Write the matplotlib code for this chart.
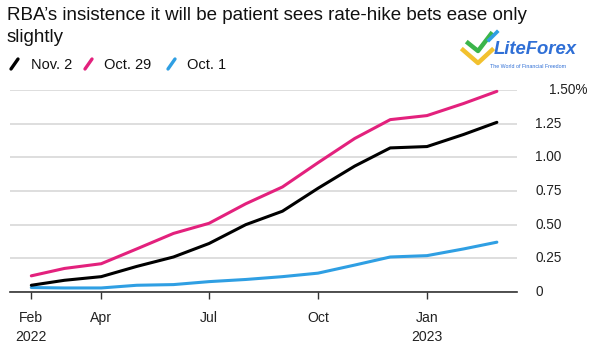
import matplotlib
matplotlib.use("Agg")
import matplotlib.pyplot as plt
from matplotlib.lines import Line2D
import matplotlib.transforms as mtransforms
import pandas as pd

plt.rcParams['font.family'] = ['Liberation Sans', 'DejaVu Sans']

dates = pd.date_range("2022-02-01", "2023-03-01", freq="MS")
nov2 = [0.05, 0.087, 0.114, 0.19, 0.26, 0.36, 0.50, 0.60, 0.77, 0.935, 1.07, 1.08, 1.17, 1.26]
oct29 = [0.12, 0.175, 0.21, 0.32, 0.435, 0.51, 0.655, 0.78, 0.96, 1.14, 1.28, 1.31, 1.40, 1.49]
oct1 = [0.033, 0.03, 0.03, 0.05, 0.055, 0.077, 0.093, 0.114, 0.14, 0.20, 0.26, 0.27, 0.32, 0.37]

series_names = ["Nov. 2", "Oct. 29", "Oct. 1"]
colors = ["#000000", "#e3217d", "#2f9fe3"]

ytick_vals = [0, 0.25, 0.5, 0.75, 1.0, 1.25, 1.5]
ytick_labels = ["0", "0.25", "0.50", "0.75", "1.00", "1.25", "1.50%"]
xtick_dates = pd.to_datetime(["2022-02-01", "2022-04-01", "2022-07-01", "2022-10-01", "2023-01-01"])
xtick_labels = ["Feb\n2022", "Apr", "Jul", "Oct", "Jan\n2023"]

W, H = 594, 344
fig = plt.figure(figsize=(W / 100, H / 100), dpi=100)
ax = fig.add_axes([10 / W, (H - 292) / H, (517 - 10) / W, (292 - 90) / H])

for vals, c in zip([oct1, nov2, oct29], [colors[2], colors[0], colors[1]]):
    ax.plot(dates, vals, color=c, lw=2.2, solid_capstyle='round', solid_joinstyle='round',
            clip_on=False, zorder=3)

ax.set_ylim(0, 1.5)
ax.set_xlim(pd.Timestamp("2022-01-14"), pd.Timestamp("2023-03-18"))
ax.set_yticks(ytick_vals)
ax.set_yticklabels([])
ax.tick_params(axis='y', length=0, left=False, right=False)
# y labels at right, left-aligned; top label shifted right as in source
ytrans = ax.get_yaxis_transform()
for v, lab in zip(ytick_vals, ytick_labels):
    off = 32 if lab.endswith('%') else 18
    t = mtransforms.offset_copy(ytrans, fig=fig, x=off, y=0, units='dots')
    ax.text(1.0, v, lab, transform=t, ha='left', va='center', fontsize=9.8,
            color='#222222', clip_on=False)

ax.set_xticks(xtick_dates)
ax.set_xticklabels(xtick_labels, linespacing=1.45)
ax.tick_params(axis='x', length=5, width=1, color='#333333', pad=8.5, labelsize=10.1,
               labelcolor='#222222', direction='out')
ax.grid(axis='y', color='#d8d8d8', lw=1.2, zorder=0)
ax.grid(axis='x', visible=False)
for s in ['top', 'right', 'left']:
    ax.spines[s].set_visible(False)
ax.spines['bottom'].set_color('#333333')
ax.spines['bottom'].set_linewidth(1.2)
ax.spines['bottom'].set_zorder(4)
ax.set_facecolor('white')

# Title
fig.text(7 / W, 1 - 15 / H, "RBA\u2019s insistence it will be patient sees rate-hike bets ease only",
         fontsize=13.5, color='#111111', va='center', ha='left')
fig.text(7 / W, 1 - 38 / H, "slightly", fontsize=13.5, color='#111111', va='center', ha='left')

# Legend
leg_x = [(10, 31), (84, 104), (167, 187)]
for (sx, tx), name, c in zip(leg_x, series_names, colors):
    fig.add_artist(Line2D([(sx + 1) / W, (sx + 8) / W], [1 - 69 / H, 1 - 59 / H], color=c, lw=2.4,
                          solid_capstyle='round', transform=fig.transFigure))
    fig.text(tx / W, 1 - 65 / H, name, fontsize=10.5, color='#111111', va='center', ha='left')

# Watermark logo
fig.text(494 / W, 1 - 50 / H, "LiteForex", fontsize=13.3, fontweight='bold', style='italic',
         color='#2f6fd6', va='center', ha='left')
fig.text(490 / W, 1 - 66.5 / H, "The World of Financial Freedom", fontsize=3.8,
         color='#2f6fd6', va='center', ha='left')
fig.add_artist(Line2D([463 / W, 478 / W, 492 / W], [1 - 50 / H, 1 - 63 / H, 1 - 50 / H],
                      color='#f2c12e', lw=3.2, transform=fig.transFigure))
fig.add_artist(Line2D([468 / W, 478 / W, 491 / W], [1 - 43 / H, 1 - 51 / H, 1 - 34 / H],
                      color='#3bb54a', lw=3.2, transform=fig.transFigure))
fig.add_artist(Line2D([489 / W, 497 / W], [1 - 40 / H, 1 - 32 / H],
                      color='#2f9fe3', lw=2.6, transform=fig.transFigure))

fig.savefig("out.png", dpi=100, facecolor='white')
